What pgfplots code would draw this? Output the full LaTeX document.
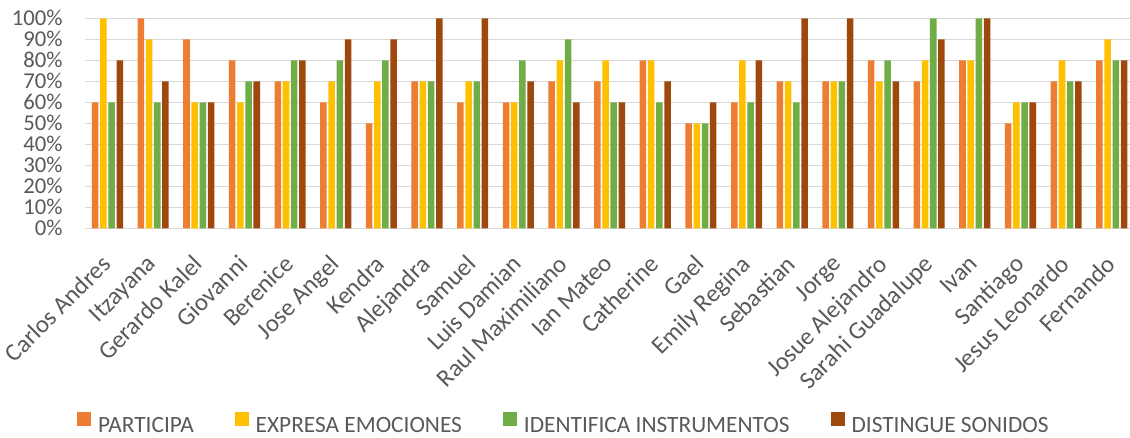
\documentclass[border=0pt]{standalone}
\usepackage{pgfplots}
\pgfplotsset{compat=1.18}
\usepackage{fontspec}
\setmainfont{Carlito}
\definecolor{cP}{HTML}{ED7D31}
\definecolor{cE}{HTML}{FFC000}
\definecolor{cI}{HTML}{70AD47}
\definecolor{cD}{HTML}{9E480E}
\definecolor{txt}{HTML}{595959}
\definecolor{grd}{HTML}{D9D9D9}
\pgfplotstableread{
x P E I D
0 60 100 60 80
1 100 90 60 70
2 90 60 60 60
3 80 60 70 70
4 70 70 80 80
5 60 70 80 90
6 50 70 80 90
7 70 70 70 100
8 60 70 70 100
9 60 60 80 70
10 70 80 90 60
11 70 80 60 60
12 80 80 60 70
13 50 50 50 60
14 60 80 60 80
15 70 70 60 100
16 70 70 70 100
17 80 70 80 70
18 70 80 100 90
19 80 80 100 100
20 50 60 60 60
21 70 80 70 70
22 80 90 80 80
}\datatable
\begin{document}
\begin{tikzpicture}
\begin{axis}[
  scale only axis, width=784pt, height=157.5pt,
  ybar=1.25pt, bar width=4.9pt,
  xmin=-0.5, xmax=22.4, ymin=0, ymax=100,
  xtick=data,
  xticklabels={Carlos Andres,Itzayana,Gerardo Kalel,Giovanni,Berenice,Jose Angel,Kendra,Alejandra,Samuel,Luis Damian,Raul Maximiliano,Ian Mateo,Catherine,Gael,Emily Regina,Sebastian,Jorge,Josue Alejandro,Sarahi Guadalupe,Ivan,Santiago,Jesus Leonardo,Fernando},
  ytick={0,10,...,100},
  yticklabel={\pgfmathprintnumber{\tick}\%},
  /pgf/number format/assume math mode=true,
  major tick length=0pt,
  separate axis lines,
  axis x line*=bottom,
  axis y line*=left,
  x axis line style={grd, line width=0.75pt, -},
  y axis line style={draw=none},
  ymajorgrids, grid style={grd, line width=0.75pt},
  yticklabel style={font=\fontsize{17}{20}\selectfont, text=txt, xshift=-13pt},
  xticklabel style={font=\fontsize{18.5}{21}\selectfont, text=txt, rotate=45, anchor=north east, inner sep=0pt, xshift=-17.1pt, yshift=-9.5pt},
  legend columns=4,
  legend style={draw=none, fill=none, at={(0.4576,-0.929)}, anchor=center,
    font=\fontsize{17.5}{20}\selectfont, text=txt,
    nodes={inner sep=0pt},
    /tikz/every odd column/.append style={column sep=5pt},
    /tikz/every even column/.append style={column sep=31pt}},
  legend cell align=left,
  legend image code/.code={\fill[#1] (0pt,-0.5pt) rectangle (10.5pt,10pt);},
]
\addplot[fill=cP, draw=none] table[x=x,y=P]{\datatable};
\addplot[fill=cE, draw=none] table[x=x,y=E]{\datatable};
\addplot[fill=cI, draw=none] table[x=x,y=I]{\datatable};
\addplot[fill=cD, draw=none] table[x=x,y=D]{\datatable};
\legend{PARTICIPA,EXPRESA EMOCIONES,IDENTIFICA INSTRUMENTOS,DISTINGUE SONIDOS}
\end{axis}
\pgfresetboundingbox
\path (-63.5pt,-157.3pt) rectangle (784pt,171.2pt);
\end{tikzpicture}
\end{document}
